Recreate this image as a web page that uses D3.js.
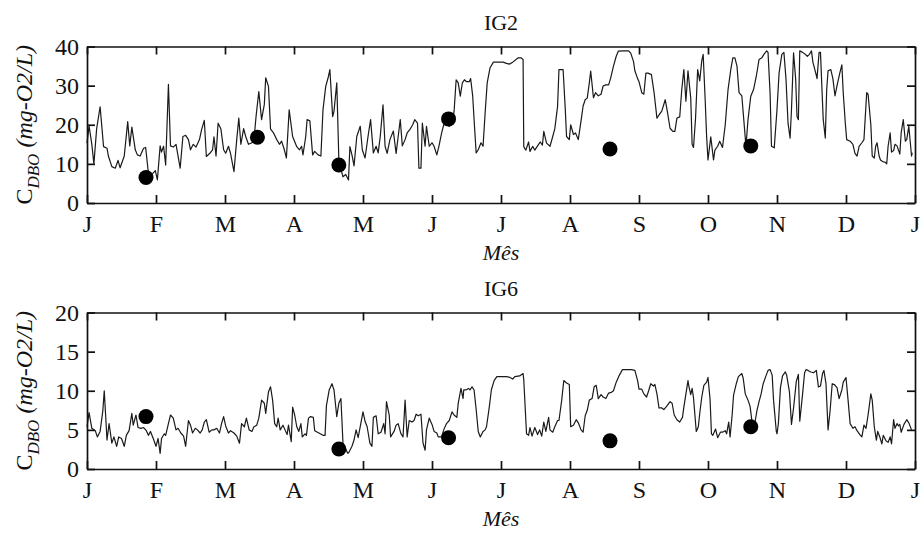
<!DOCTYPE html>
<html>
<head>
<meta charset="utf-8">
<script src="https://cdn.jsdelivr.net/npm/d3@7"></script>
<style>
  html, body { margin: 0; padding: 0; background: #fff; }
  svg { display: block; }
  text { font-family: "Liberation Serif", "Times New Roman", serif; fill: #111; }
</style>
</head>
<body>
<svg id="chart" width="924" height="534"></svg>
<script>
// ---------- DATA ----------
const monthLabels = ["J","F","M","A","M","J","J","A","S","O","N","D","J"];
const ig2Ticks = [0, 10, 20, 30, 40];
const ig6Ticks = [0, 5, 10, 15, 20];

// time in months since 1 Jan (0..12)
const ig2T = [
 0.00,0.03,0.07,0.10,0.14,0.19,0.24,0.29,0.31,0.36,
 0.41,0.45,0.48,0.54,0.59,0.62,0.65,0.70,0.73,0.77,
 0.82,0.85,0.89,0.94,0.99,1.02,1.06,1.08,1.11,1.14,
 1.18,1.21,1.25,1.29,1.35,1.39,1.43,1.47,1.50,1.54,
 1.58,1.63,1.66,1.70,1.73,1.78,1.82,1.84,1.87,1.90,
 1.94,1.98,2.01,2.05,2.08,2.13,2.17,2.20,2.23,2.27,
 2.30,2.34,2.39,2.42,2.45,2.49,2.53,2.57,2.59,2.63,
 2.66,2.70,2.75,2.79,2.82,2.86,2.89,2.93,2.98,3.04,
 3.08,3.11,3.13,3.17,3.19,3.23,3.27,3.30,3.35,3.39,
 3.42,3.46,3.50,3.52,3.56,3.58,3.62,3.65,3.69,3.71,
 3.75,3.79,3.81,3.84,3.87,3.91,3.96,3.99,4.03,4.08,
 4.11,4.15,4.19,4.22,4.25,4.29,4.32,4.35,4.39,4.44,
 4.48,4.51,4.54,4.57,4.61,4.64,4.68,4.72,4.75,4.79,
 4.81,4.84,4.86,4.90,4.92,4.96,5.00,5.03,5.07,5.10,
 5.14,5.17,5.21,5.25,5.29,5.32,5.35,5.38,5.41,5.44,
 5.47,5.50,5.54,5.56,5.59,5.61,5.64,5.67,5.71,5.74,
 5.77,5.80,5.84,5.89,5.96,6.03,6.08,6.12,6.17,6.25,
 6.29,6.32,6.33,6.36,6.40,6.42,6.46,6.49,6.53,6.57,
 6.60,6.62,6.66,6.71,6.75,6.78,6.82,6.84,6.90,6.93,
 6.95,6.99,7.01,7.05,7.08,7.12,7.16,7.19,7.22,7.25,
 7.28,7.30,7.34,7.37,7.41,7.45,7.48,7.52,7.56,7.59,
 7.63,7.67,7.70,7.77,7.85,7.88,7.92,7.94,7.98,8.00,
 8.04,8.07,8.10,8.13,8.18,8.22,8.26,8.29,8.33,8.38,
 8.41,8.45,8.49,8.52,8.55,8.59,8.62,8.65,8.68,8.71,
 8.75,8.77,8.79,8.82,8.85,8.88,8.91,8.93,8.96,8.98,
 9.00,9.04,9.08,9.10,9.14,9.17,9.21,9.25,9.29,9.33,
 9.36,9.39,9.42,9.45,9.49,9.52,9.55,9.58,9.62,9.66,
 9.70,9.74,9.78,9.81,9.85,9.87,9.90,9.92,9.96,10.00,
 10.03,10.07,10.10,10.13,10.16,10.19,10.21,10.24,10.27,10.29,
 10.31,10.33,10.37,10.41,10.44,10.47,10.50,10.52,10.57,10.58,
 10.61,10.63,10.67,10.70,10.72,10.74,10.78,10.81,10.84,10.87,
 10.91,10.94,10.96,10.99,11.01,11.06,11.10,11.13,11.16,11.19,
 11.23,11.26,11.30,11.32,11.36,11.38,11.41,11.43,11.45,11.48,
 11.50,11.53,11.57,11.59,11.61,11.64,11.66,11.69,11.71,11.74,
 11.78,11.80,11.83,11.86,11.88,11.91,11.95,11.96
];
const ig2V = [
 15.3,19.7,15,10,19,24.6,14.4,14,12,9.3,
 8.9,10.9,9,12,20.8,14.6,19.4,13.6,12.3,12,
 14,14.2,7.6,7.3,8.3,5.9,14.6,13,14.5,9.7,
 30.3,14.6,14.3,15,8.9,17,17.3,16.2,13.6,15,
 14.3,16.2,18.7,21.1,11.9,12.7,13.6,16.9,12,20.4,
 19,13.6,12.7,14.5,12.7,8,16.2,21.7,15,19,
 17,15,15.4,16.2,22.1,28.5,21.3,25.2,32,29.8,
 18.9,18,16.2,15,15.8,13.6,11.5,23.8,17,14.4,
 13.6,14.5,12.3,17,21.3,21,12.3,13.2,12.3,12,
 23.8,29.8,32.4,34.1,22.1,23.5,30.7,11,8,6.7,
 7.3,5.9,14.4,12.3,9.5,17,19.6,13.6,11.5,17.9,
 21.3,12.8,14.5,12.8,17,25.1,14.5,12.7,16.2,18.4,
 12.7,17,21.3,14.6,16.2,17.9,18.8,20,21.3,20.4,
 8.9,8.9,20.4,14.5,19.6,14.5,15.4,14.5,12.3,14.5,
 17.9,20,20,19.6,20.4,23.4,31.5,30.7,27.3,30.7,
 31.5,31,31,31.8,27.3,21.3,12.8,13.6,15.4,14.5,
 23,30.7,34.5,36,36,36,35.7,35.5,36,37.1,
 37.1,36.7,14.4,13.5,15.6,13.2,14.5,13.5,14.6,15.6,
 14.8,18.3,15.3,14.5,17,19,24.7,34.1,34.1,24.5,
 17,16.2,20,17.5,17.9,16.2,21,24.8,26.4,26.8,
 30.7,33.7,26.9,28.2,27.4,27.8,29.9,30.2,30.2,32,
 35,37.5,38.8,38.9,38.9,38.3,36.2,33.8,31.8,31,
 28.2,27.8,33.2,33.2,32.8,28,21.7,22.5,23.5,26.4,
 23.5,19.1,18.3,18.3,21.7,22,29,34.1,26,33.8,
 26.8,15,14.2,21.8,34.1,31.2,36.4,38,26,17,
 11,16.9,11,13.5,14.5,15.8,14.2,20,28.9,34.1,
 37.1,37.1,35,28.2,27.4,21,14.5,21.3,27.3,29,
 32.4,36.7,37.1,38,38.9,38.5,28,14.5,14.1,23.9,
 33.2,38,38.5,31.8,20.4,16.6,23.9,38.4,31.8,22.1,
 21.3,38.9,38.5,38,37.5,38,38.9,36,32.6,31.8,
 38.5,38.5,21.3,16.6,28.9,33.8,34.1,31.8,27.4,30,
 33.2,35.3,28.2,20.4,16.2,15.8,15,12.7,12,14.5,
 15.4,16.2,28.2,27.8,20,12,11.5,14.5,15.4,12,
 11,10.6,10.4,10,14.5,17.9,13,13.4,15,14.6,
 12.5,18,21.3,15.8,16.2,19.6,12,12.9
];

const ig6T = [
 0.00,0.03,0.07,0.12,0.15,0.19,0.23,0.25,0.29,0.32,
 0.36,0.39,0.43,0.46,0.50,0.54,0.57,0.61,0.65,0.67,
 0.71,0.74,0.78,0.82,0.86,0.89,0.92,0.96,1.00,1.03,
 1.06,1.08,1.12,1.14,1.18,1.21,1.25,1.29,1.32,1.36,
 1.40,1.43,1.47,1.50,1.53,1.57,1.60,1.64,1.67,1.70,
 1.73,1.77,1.81,1.84,1.88,1.92,1.95,1.98,2.01,2.05,
 2.08,2.13,2.17,2.21,2.24,2.28,2.31,2.35,2.39,2.42,
 2.46,2.49,2.53,2.57,2.59,2.63,2.66,2.69,2.72,2.75,
 2.77,2.80,2.84,2.87,2.90,2.92,2.96,2.98,3.01,3.04,
 3.07,3.10,3.12,3.16,3.18,3.21,3.24,3.28,3.30,3.34,
 3.38,3.42,3.45,3.47,3.51,3.55,3.58,3.62,3.65,3.68,
 3.71,3.74,3.78,3.80,3.84,3.87,3.90,3.93,3.97,4.00,
 4.03,4.06,4.10,4.13,4.15,4.19,4.22,4.26,4.30,4.32,
 4.34,4.38,4.40,4.45,4.48,4.51,4.55,4.58,4.61,4.64,
 4.67,4.71,4.74,4.77,4.80,4.84,4.87,4.90,4.92,4.96,
 5.00,5.03,5.07,5.09,5.14,5.17,5.21,5.25,5.29,5.32,
 5.36,5.38,5.42,5.45,5.46,5.49,5.53,5.55,5.58,5.61,
 5.64,5.67,5.70,5.74,5.77,5.79,5.83,5.86,5.90,5.94,
 6.01,6.08,6.13,6.17,6.20,6.27,6.32,6.33,6.37,6.40,
 6.42,6.45,6.49,6.53,6.56,6.59,6.62,6.65,6.69,6.71,
 6.75,6.78,6.82,6.84,6.88,6.91,6.95,6.99,7.01,7.05,
 7.09,7.12,7.16,7.19,7.22,7.25,7.28,7.32,7.35,7.38,
 7.41,7.45,7.48,7.52,7.56,7.60,7.63,7.67,7.71,7.76,
 7.82,7.89,7.94,7.98,8.00,8.04,8.07,8.11,8.14,8.17,
 8.21,8.23,8.26,8.29,8.33,8.36,8.40,8.45,8.48,8.51,
 8.55,8.59,8.63,8.65,8.71,8.72,8.75,8.77,8.79,8.83,
 8.86,8.88,8.91,8.94,8.98,9.00,9.03,9.05,9.07,9.11,
 9.14,9.18,9.21,9.25,9.27,9.30,9.32,9.35,9.37,9.41,
 9.44,9.49,9.51,9.54,9.58,9.61,9.64,9.67,9.71,9.74,
 9.77,9.80,9.84,9.87,9.90,9.93,9.95,9.99,10.00,10.02,
 10.05,10.08,10.12,10.14,10.18,10.21,10.24,10.28,10.31,10.33,
 10.37,10.40,10.42,10.45,10.49,10.53,10.57,10.60,10.63,10.66,
 10.68,10.71,10.74,10.77,10.80,10.83,10.87,10.90,10.94,10.96,
 11.00,11.03,11.06,11.10,11.13,11.16,11.20,11.23,11.26,11.29,
 11.32,11.36,11.38,11.41,11.44,11.46,11.49,11.52,11.54,11.58,
 11.61,11.64,11.66,11.69,11.71,11.74,11.76,11.78,11.80,11.84,
 11.88,11.91,11.95
];
const ig6V = [
 5.4,7.2,5.2,4.9,4.1,4.8,7.5,10,3.7,5.8,
 3.3,4.1,2.9,4.1,3.9,2.9,4.3,4.9,7.1,5.6,
 6.9,5.3,5.2,5.3,4.9,4.3,4.8,3.9,2.9,3.9,
 2.0,3.9,4.5,4.3,5.8,6.9,6.5,5.0,5.2,4.6,
 4.2,2.9,6.2,5.6,4.6,5.2,5.0,4.6,5.0,6.0,
 6.3,4.7,5.0,5.0,5.2,4.6,5.8,6.7,5.5,4.6,
 4.9,4.6,4.2,3.3,5.8,5.4,6.5,5.0,4.8,5.4,
 5.6,6.5,8.8,8.4,7.1,9.85,10.5,8.8,5.8,5.4,
 6.5,5.0,5.6,5.0,4.4,5.6,3.5,7.9,6.9,5.4,
 4.8,5.8,4.1,4.5,4.3,6.5,6.7,6.6,4.9,4.7,
 4.5,4.3,4.3,8.1,10.1,10.9,10.1,6.7,8.4,9.0,
 3.3,2.7,2.0,2.2,2.9,3.7,5.0,4.0,5.9,7.3,
 6.1,5.4,3.3,2.9,6.6,6.8,4.5,4.7,5.8,4.5,
 8.6,6.9,4.1,4.8,5.6,5.8,4.5,4.1,8.8,4.1,
 6.2,6.0,6.2,7.0,6.8,7.0,3.3,2.4,5.0,6.5,
 5.7,4.8,4.6,4.1,4.1,5.0,5.8,6.2,7.3,6.9,
 6.6,8.4,10.3,9.0,10.1,10.1,10.3,10.1,10.5,10.1,
 7.6,4.8,4.1,4.8,5.0,5.4,7.9,10.1,11.3,11.8,
 11.8,11.8,11.7,11.5,11.8,11.9,12.2,11.4,4.5,4.3,
 5.3,4.2,5.3,4.4,5.0,4.2,6.0,4.8,6.6,5.0,
 4.7,5.4,6.2,6.2,8.8,11.3,11.0,10.8,5.4,5.6,
 6.3,5.9,5.0,4.7,6.8,7.5,8.8,9.0,10.5,10.7,
 9.0,9.5,9.2,9.0,9.7,9.8,10.0,11.1,11.9,12.7,
 12.7,12.7,12.6,11.3,10.2,10.2,9.6,9.2,10.0,10.9,
 10.6,10.8,9.6,7.8,7.8,7.6,8.0,8.6,8.4,6.9,
 6.3,6.0,6.6,7.9,11.3,10.7,9.5,10.3,9.1,4.8,
 5.4,7.1,9.2,10.7,11.1,11.7,8.9,4.5,4.3,5.1,
 4.0,4.7,4.7,4.9,4.5,6.0,4.1,6.9,9.4,10.9,
 11.8,12.2,11.6,9.6,8.8,8.0,5.9,5.4,7.5,8.6,
 9.6,10.9,11.9,12.6,12.7,12.0,8.8,4.8,4.5,5.8,
 10.4,11.9,12.4,12.0,9.9,5.7,7.8,11.2,12.1,6.1,
 9.5,12.3,12.7,12.6,12.4,12.3,12.6,10.5,10.6,12.2,
 12.6,10.9,5.0,7.5,10.9,10.8,10.4,9.0,10.1,11.1,
 11.7,8.8,5.8,5.2,5.4,4.9,4.4,4.1,5.6,5.2,
 6.9,9.6,8.8,5.4,3.7,4.8,4.1,3.2,4.3,3.6,
 3.4,4.1,3.2,6.3,5.2,5.8,5.5,5.7,4.7,5.7,
 6.3,5.9,5.0
];

// sampled measurements (dots)
const sampleT = [0.855, 2.47, 3.65, 5.24, 7.58, 9.62];
const ig2Samples = [6.5, 16.8, 9.7, 21.5, 13.8, 14.6];
const ig6Samples = [6.7, null, 2.55, 4.0, 3.6, 5.4];

// ---------- DRAW ----------
const svg = d3.select("#chart");
const FONT = 24;
const SERIF = '"Liberation Serif", "Times New Roman", Times, serif';
const left = 87, right = 915;

const panels = [
  { title: "IG2", top: 46.5, bottom: 203, max: 40, ticks: ig2Ticks, T: ig2T, V: ig2V, S: ig2Samples },
  { title: "IG6", top: 312.5, bottom: 469, max: 20, ticks: ig6Ticks, T: ig6T, V: ig6V, S: ig6Samples }
];

const x = d3.scaleLinear().domain([0, 12]).range([left, right]);

panels.forEach(p => {
  const y = d3.scaleLinear().domain([0, p.max]).range([p.bottom, p.top]);
  const g = svg.append("g");

  // data line
  const pts = p.T.map((t, i) => [t, p.V[i]]).filter(d => d[1] != null);
  g.append("path")
    .datum(pts)
    .attr("fill", "none")
    .attr("stroke", "#1a1a1a")
    .attr("stroke-width", 1.2)
    .attr("stroke-linejoin", "round")
    .attr("d", d3.line().x(d => x(d[0])).y(d => y(d[1])));

  // sample dots
  const dots = sampleT.map((t, i) => [t, p.S[i]]).filter(d => d[1] != null);
  g.selectAll("circle.dot").data(dots).enter().append("circle")
    .attr("class", "dot")
    .attr("cx", d => x(d[0])).attr("cy", d => y(d[1]))
    .attr("r", 7.5).attr("fill", "#000");

  // axes (MATLAB-style box with inward ticks)
  const styleAxis = sel => {
    sel.select(".domain").attr("stroke", "#111").attr("stroke-width", 1.7);
    sel.selectAll(".tick line").attr("stroke", "#111").attr("stroke-width", 1.7);
    sel.selectAll("text").attr("font-size", FONT).attr("font-family", SERIF).attr("fill", "#111");
  };

  g.append("g").attr("transform", `translate(0,${p.bottom})`)
    .call(d3.axisBottom(x).tickValues(d3.range(13)).tickFormat(i => monthLabels[i])
      .tickSizeInner(-8).tickSizeOuter(0).tickPadding(12))
    .call(styleAxis);
  g.append("g").attr("transform", `translate(0,${p.top})`)
    .call(d3.axisTop(x).tickValues(d3.range(13)).tickFormat("")
      .tickSizeInner(-8).tickSizeOuter(0))
    .call(styleAxis);
  g.append("g").attr("transform", `translate(${left},0)`)
    .call(d3.axisLeft(y).tickValues(p.ticks).tickSizeInner(-8).tickSizeOuter(0).tickPadding(8))
    .call(styleAxis);
  g.append("g").attr("transform", `translate(${right},0)`)
    .call(d3.axisRight(y).tickValues(p.ticks).tickFormat("").tickSizeInner(-8).tickSizeOuter(0))
    .call(styleAxis);

  // title
  svg.append("text")
    .attr("x", (left + right) / 2).attr("y", p.top - 17)
    .attr("text-anchor", "middle").attr("font-size", 22).attr("font-family", SERIF)
    .text(p.title);

  // x label
  svg.append("text")
    .attr("x", (left + right) / 2).attr("y", p.bottom + 57)
    .attr("text-anchor", "middle").attr("font-size", 22).attr("font-style", "italic").attr("font-family", SERIF)
    .text("Mês");

  // y label
  const cy = (p.top + p.bottom) / 2;
  const yl = svg.append("text")
    .attr("transform", `translate(32,${cy}) rotate(-90)`)
    .attr("text-anchor", "middle").attr("font-size", 24).attr("font-family", SERIF);
  yl.append("tspan").text("C");
  yl.append("tspan").attr("font-style", "italic").attr("font-size", 17).attr("dy", 7).text("DBO");
  yl.append("tspan").attr("font-style", "italic").attr("dy", -7).text(" (mg-O2/L)");
});
</script>
</body>
</html>
